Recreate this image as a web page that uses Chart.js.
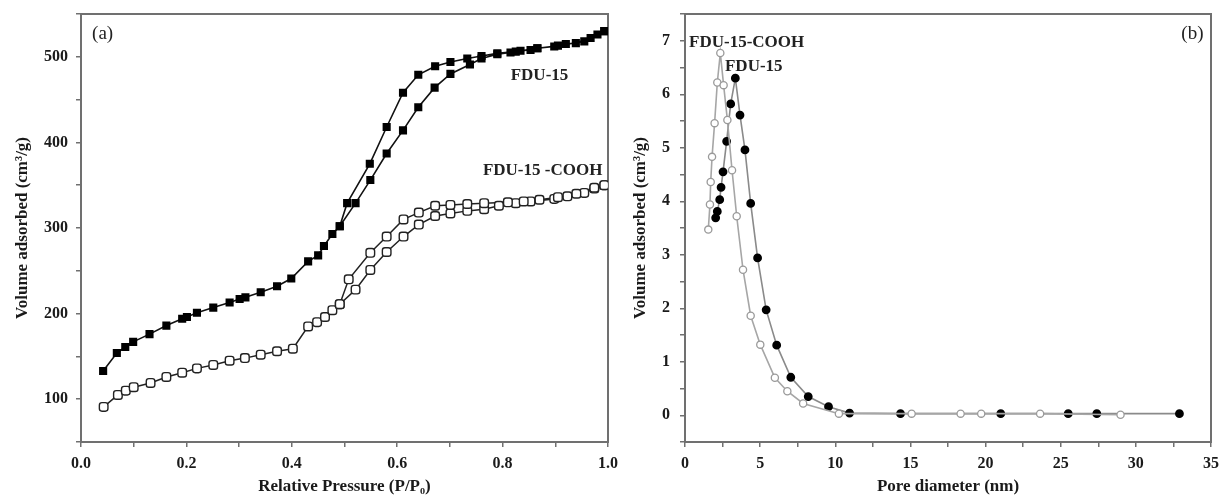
<!DOCTYPE html>
<html lang="en">
<head>
    <meta charset="UTF-8">
    <title>FDU-15 isotherms and pore size</title>
    <script src="https://cdn.jsdelivr.net/npm/chart.js"></script>
    <style>
        body {
            margin: 0;
            background: #fff;
        }
        .panel {
            position: absolute;
            top: 0;
        }
        #panelA { left: 0; }
        #panelB { left: 620px; }
    </style>
</head>
<body>
    <div class="panel" id="panelA"><canvas id="isoChart" width="620" height="498"></canvas></div>
    <div class="panel" id="panelB"><canvas id="poreChart" width="600" height="498"></canvas></div>

    <script>
        // (a) N2 isotherms, relative pressure vs volume adsorbed
        const fduAdsP = [0.042, 0.068, 0.084, 0.099, 0.130, 0.162, 0.192, 0.201, 0.220, 0.251, 0.282, 0.301, 0.312, 0.341, 0.372, 0.399, 0.431, 0.450, 0.461, 0.477, 0.491, 0.521, 0.549, 0.580, 0.611, 0.640, 0.671, 0.701, 0.738, 0.760, 0.790, 0.815, 0.834, 0.853, 0.866, 0.898, 0.920, 0.939, 0.967, 0.980, 0.993];
        const fduAdsV = [133, 154, 161, 167, 176, 186, 194, 196, 201, 207, 213, 217, 219, 225, 232, 241, 261, 268, 279, 293, 302, 329, 356, 387, 414, 441, 464, 480, 491, 498, 503, 505, 507, 508, 510, 512, 515, 516, 522, 526, 530];
        const fduDesP = [0.993, 0.955, 0.905, 0.866, 0.825, 0.790, 0.760, 0.733, 0.701, 0.672, 0.640, 0.611, 0.580, 0.548, 0.505, 0.491];
        const fduDesV = [530, 518, 513, 510, 506, 504, 501, 498, 494, 489, 479, 458, 418, 375, 329, 302];

        const coohAdsP = [0.043, 0.070, 0.085, 0.100, 0.132, 0.162, 0.192, 0.220, 0.251, 0.282, 0.311, 0.341, 0.372, 0.402, 0.431, 0.448, 0.463, 0.477, 0.491, 0.521, 0.549, 0.580, 0.612, 0.641, 0.672, 0.701, 0.733, 0.765, 0.793, 0.825, 0.853, 0.898, 0.923, 0.955, 0.974, 0.993];
        const coohAdsV = [91, 105, 110, 114, 119, 126, 131, 136, 140, 145, 148, 152, 156, 159, 185, 190, 196, 204, 211, 228, 251, 272, 290, 304, 314, 317, 320, 322, 326, 329, 331, 334, 337, 341, 346, 350];
        const coohDesP = [0.993, 0.974, 0.940, 0.905, 0.870, 0.840, 0.810, 0.765, 0.733, 0.701, 0.672, 0.641, 0.612, 0.580, 0.549, 0.508, 0.491];
        const coohDesV = [350, 347, 340, 336, 333, 331, 330, 329, 328, 327, 326, 318, 310, 290, 271, 240, 211];

        // (b) pore size distribution
        const fduPoreD = [2.04, 2.15, 2.31, 2.40, 2.53, 2.77, 3.04, 3.35, 3.66, 3.99, 4.37, 4.83, 5.40, 6.10, 7.04, 8.20, 9.55, 10.95, 14.34, 21.01, 25.5, 27.4, 32.9];
        const fduPoreV = [3.69, 3.81, 4.03, 4.26, 4.55, 5.12, 5.82, 6.30, 5.61, 4.96, 3.96, 2.94, 1.97, 1.31, 0.71, 0.35, 0.16, 0.04, 0.03, 0.03, 0.03, 0.03, 0.03];
        const coohPoreD = [1.55, 1.66, 1.71, 1.80, 1.97, 2.15, 2.35, 2.57, 2.82, 3.13, 3.44, 3.86, 4.37, 5.01, 5.98, 6.81, 7.86, 10.24, 15.08, 18.34, 19.71, 23.63, 28.98];
        const coohPoreV = [3.47, 3.94, 4.36, 4.83, 5.46, 6.22, 6.77, 6.17, 5.52, 4.58, 3.72, 2.72, 1.86, 1.32, 0.70, 0.45, 0.22, 0.03, 0.03, 0.03, 0.03, 0.03, 0.01];

        const serif = "'Liberation Serif', 'Times New Roman', serif";
        const frameColor = '#707070';

        function pairs(xs, ys) {
            return xs.map(function (x, i) { return { x: x, y: ys[i] }; });
        }

        // box around the plot area
        const framePlugin = {
            id: 'frame',
            beforeDatasetsDraw(chart) {
                const a = chart.chartArea, ctx = chart.ctx;
                ctx.save();
                ctx.strokeStyle = frameColor;
                ctx.lineWidth = 2;
                ctx.strokeRect(a.left, a.top, a.right - a.left, a.bottom - a.top);
                ctx.restore();
            }
        };

        // text labels placed in data units
        const notesPlugin = {
            id: 'notes',
            afterDatasetsDraw(chart, args, opts) {
                const ctx = chart.ctx;
                ctx.save();
                ctx.textBaseline = 'middle';
                opts.items.forEach(function (n) {
                    ctx.font = n.font;
                    ctx.fillStyle = n.color || '#222';
                    ctx.textAlign = n.align || 'left';
                    ctx.fillText(n.text, chart.scales.x.getPixelForValue(n.x), chart.scales.y.getPixelForValue(n.y));
                });
                ctx.restore();
            }
        };

        function axis(opts) {
            return {
                type: 'linear',
                min: opts.min,
                max: opts.max,
                border: { display: false },
                grid: {
                    drawOnChartArea: false,
                    drawTicks: true,
                    tickLength: 5,
                    tickColor: frameColor,
                    lineWidth: 1.5
                },
                ticks: {
                    stepSize: opts.step,
                    autoSkip: false,
                    maxRotation: 0,
                    padding: opts.pad,
                    color: '#1a1a1a',
                    font: { family: serif, size: 16, weight: 'bold' },
                    callback: opts.label
                },
                title: {
                    display: true,
                    text: opts.title,
                    color: '#1a1a1a',
                    font: { family: serif, size: 17, weight: 'bold' },
                    padding: opts.titlePad
                },
                afterFit: opts.fit
            };
        }

        const isoChart = new Chart(document.getElementById('isoChart'), {
            type: 'scatter',
            data: {
                datasets: [{
                    label: 'FDU-15',
                    data: pairs(fduAdsP, fduAdsV).concat(pairs(fduDesP, fduDesV)),
                    showLine: true,
                    borderColor: '#111',
                    borderWidth: 1.6,
                    pointStyle: 'rect',
                    pointRadius: 4.6,
                    backgroundColor: '#000',
                    pointBorderColor: '#000'
                }, {
                    label: 'FDU-15 -COOH',
                    data: pairs(coohAdsP, coohAdsV).concat(pairs(coohDesP, coohDesV)),
                    showLine: true,
                    borderColor: '#222',
                    borderWidth: 1.5,
                    pointStyle: 'rectRounded',
                    pointRadius: 5,
                    pointBorderWidth: 1.4,
                    backgroundColor: '#fff',
                    pointBorderColor: '#222'
                }]
            },
            options: {
                responsive: false,
                animation: false,
                layout: { padding: { top: 14, right: 12, left: 0, bottom: 0 } },
                plugins: {
                    legend: { display: false },
                    tooltip: { enabled: false },
                    notes: {
                        items: [
                            { text: '(a)', x: 0.021, y: 527, font: '19px ' + serif },
                            { text: 'FDU-15', x: 0.870, y: 478, align: 'center', font: 'bold 17px ' + serif },
                            { text: 'FDU-15 -COOH', x: 0.876, y: 367, align: 'center', font: 'bold 17px ' + serif }
                        ]
                    }
                },
                scales: {
                    x: axis({
                        min: 0, max: 1, step: 0.1, pad: 7,
                        title: 'Relative Pressure (P/P\u2080)',
                        titlePad: { top: 0, bottom: 1 },
                        label: function (v, i) { return i % 2 === 0 ? v.toFixed(1) : ''; },
                        fit: function (s) { s.height = 56; s.paddingLeft = 0; s.paddingRight = 0; }
                    }),
                    y: axis({
                        min: 50, max: 550, step: 50, pad: 8,
                        title: 'Volume adsorbed (cm\u00b3/g)',
                        titlePad: { top: 12, bottom: 0 },
                        label: function (v) { return v % 100 === 0 ? v : ''; },
                        fit: function (s) { s.width = 81; s.paddingTop = 0; s.paddingBottom = 0; }
                    })
                }
            },
            plugins: [framePlugin, notesPlugin]
        });

        const poreChart = new Chart(document.getElementById('poreChart'), {
            type: 'scatter',
            data: {
                datasets: [{
                    label: 'FDU-15-COOH',
                    data: pairs(coohPoreD, coohPoreV),
                    showLine: true,
                    borderColor: '#a6a6a6',
                    borderWidth: 1.6,
                    pointStyle: 'circle',
                    pointRadius: 3.6,
                    pointBorderWidth: 1.3,
                    backgroundColor: '#fff',
                    pointBorderColor: '#9a9a9a'
                }, {
                    label: 'FDU-15',
                    data: pairs(fduPoreD, fduPoreV),
                    showLine: true,
                    borderColor: '#8a8a8a',
                    borderWidth: 1.6,
                    pointStyle: 'circle',
                    pointRadius: 3.6,
                    backgroundColor: '#000',
                    pointBorderColor: '#000'
                }]
            },
            options: {
                responsive: false,
                animation: false,
                layout: { padding: { top: 14, right: 9, left: 0, bottom: 0 } },
                plugins: {
                    legend: { display: false },
                    tooltip: { enabled: false },
                    notes: {
                        items: [
                            { text: 'FDU-15-COOH', x: 0.27, y: 6.96, font: 'bold 17px ' + serif },
                            { text: 'FDU-15', x: 2.66, y: 6.51, font: 'bold 17px ' + serif },
                            { text: '(b)', x: 34.5, y: 7.13, align: 'right', font: '19px ' + serif }
                        ]
                    }
                },
                scales: {
                    x: axis({
                        min: 0, max: 35, step: 2.5, pad: 7,
                        title: 'Pore diameter (nm)',
                        titlePad: { top: 0, bottom: 1 },
                        label: function (v) { return v % 5 === 0 ? v : ''; },
                        fit: function (s) { s.height = 56; s.paddingLeft = 0; s.paddingRight = 0; }
                    }),
                    y: axis({
                        min: -0.5, max: 7.5, step: 0.5, pad: 10,
                        title: 'Volume adsorbed (cm\u00b3/g)',
                        titlePad: { top: 10, bottom: 0 },
                        label: function (v) { return Number.isInteger(v) ? v : ''; },
                        fit: function (s) { s.width = 65; s.paddingTop = 0; s.paddingBottom = 0; }
                    })
                }
            },
            plugins: [framePlugin, notesPlugin]
        });
    </script>
</body>
</html>
